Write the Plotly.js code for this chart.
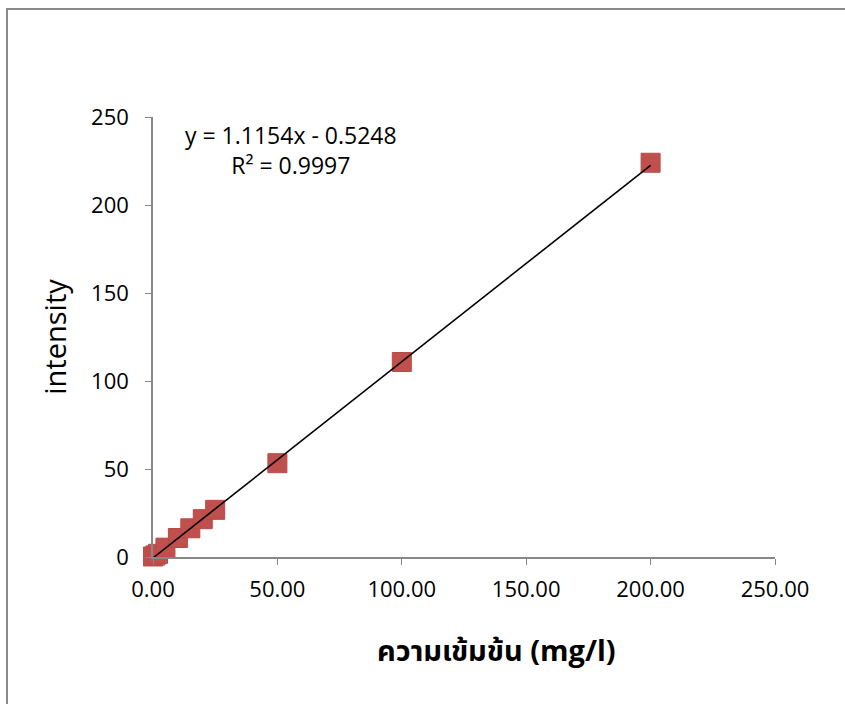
<!DOCTYPE html>
<html><head><meta charset="utf-8">
<script src="https://cdn.plot.ly/plotly-3.0.1.min.js"></script>
<style>
html,body{margin:0;padding:0;background:#fff;overflow:hidden;}
#frame{position:absolute;left:6px;top:8px;width:1000px;height:1000px;border-left:2px solid #8a8a8a;border-top:2px solid #8a8a8a;}
#chart{position:absolute;left:0;top:0;width:845px;height:704px;}
</style>
</head><body><div id="frame"></div><div id="chart"></div>
<script>
const concentration = [0, 1, 2, 5, 10, 15, 20, 25, 50, 100, 200];
const intensity = [0.3, 0.9, 1.8, 5.3, 10.8, 16.3, 21.5, 26.8, 53.3, 110.8, 224.0];
const slope = 1.1154, intercept = -0.5248;
const trendX = [0, 200];
const trendY = trendX.map(x => slope * x + intercept);
const xTicks = [0, 50, 100, 150, 200, 250];
const xTickText = ['0.00', '50.00', '100.00', '150.00', '200.00', '250.00'];
const yTicks = [0, 50, 100, 150, 200, 250];

const font = '"Open Sans", "Noto Sans Thai", "Noto Sans", sans-serif';
const data = [
  {x: concentration, y: intensity, type: 'scatter', mode: 'markers', cliponaxis: false,
   marker: {symbol: 'square', size: 19, color: '#C0504D', line: {color: '#B84A47', width: 1}}, showlegend: false},
  {x: trendX, y: trendY, type: 'scatter', mode: 'lines', cliponaxis: false, line: {color: '#000', width: 1.6}, showlegend: false}
];
const layout = {
  width: 845, height: 704,
  margin: {l: 153, r: 70, t: 117, b: 147},
  paper_bgcolor: 'rgba(0,0,0,0)', plot_bgcolor: 'rgba(0,0,0,0)',
  font: {family: font, size: 22, color: '#000'},
  xaxis: {range: [0, 250], tickvals: xTicks, ticktext: xTickText, showgrid: false, zeroline: false,
    showline: true, linecolor: '#888', linewidth: 1.5, ticks: 'outside', ticklen: 6, tickcolor: '#888',
    ticklabelstandoff: 6},
  yaxis: {range: [0, 250], tickvals: yTicks, showgrid: false, zeroline: false,
    showline: true, linecolor: '#888', linewidth: 1.5, ticks: 'outside', ticklen: 6, tickcolor: '#888',
    ticklabelstandoff: 12,
    title: {text: 'intensity', font: {size: 29}, standoff: 16}},
  annotations: [
    {xref: 'paper', yref: 'paper', x: 0.222, y: 0.925, xanchor: 'center', yanchor: 'middle',
     text: 'y = 1.1154x - 0.5248<br>R² = 0.9997',
     showarrow: false, align: 'center', font: {size: 23}},
    {xref: 'paper', yref: 'paper', x: 0.553, y: -0.21, xanchor: 'center', yanchor: 'middle',
     text: '<b>ความเข้มข้น (mg/l)</b>', showarrow: false, font: {size: 29}}
  ]
};
Plotly.newPlot('chart', data, layout, {displayModeBar: false});
</script></body></html>
